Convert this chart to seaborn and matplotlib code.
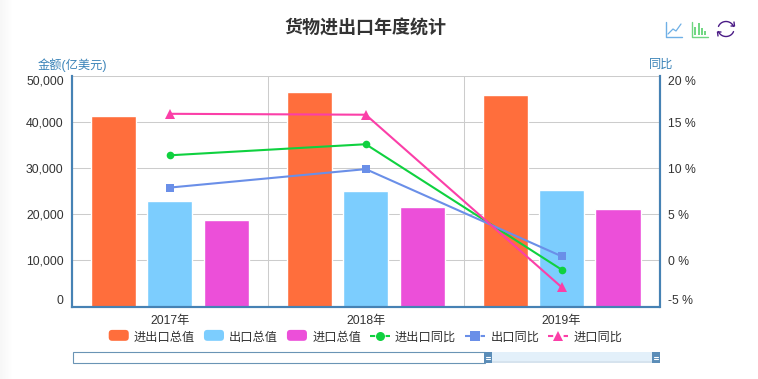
import numpy as np
import pandas as pd
import matplotlib
matplotlib.use('Agg')
import matplotlib.pyplot as plt
import seaborn as sns
from matplotlib.legend_handler import HandlerPatch
from matplotlib.lines import Line2D
from matplotlib.patches import FancyBboxPatch, Rectangle, Patch

# data
years = ['2017年', '2018年', '2019年']
total_value = [41300, 46500, 45900]
export_value = [22800, 25000, 25200]
import_value = [18700, 21500, 21100]
total_yoy = [11.4, 12.6, -1.0]
export_yoy = [7.9, 9.9, 0.45]
import_yoy = [15.9, 15.8, -2.9]
bar_names = ['进出口总值', '出口总值', '进口总值']
line_names = ['进出口同比', '出口同比', '进口同比']
left_ticks = [0, 10000, 20000, 30000, 40000, 50000]
right_ticks = [-5, 0, 5, 10, 15, 20]

bar_colors = ['#FF6E3C', '#7CCDFE', '#EC4FD9']
line_colors = ['#0FD13F', '#6A8FE8', '#FB3FA8']
line_markers = ['o', 's', '^']
AXIS = '#4682B4'
NAME = '#3A83B8'
TEXT = '#333333'
GRID = '#CCCCCC'

sns.set_theme(style='white')
plt.rcParams['font.family'] = ['Liberation Sans', 'Noto Sans CJK SC']
plt.rcParams['axes.unicode_minus'] = False
FS = 8.8

bars = pd.DataFrame({
    'year': years * 3,
    'name': np.repeat(bar_names, 3),
    'value': total_value + export_value + import_value,
})
lines = pd.DataFrame({
    'pos': list(range(3)) * 3,
    'name': np.repeat(line_names, 3),
    'value': total_yoy + export_yoy + import_yoy,
})

W, H = 758, 379
fig = plt.figure(figsize=(W / 100, H / 100), dpi=100)
ax = fig.add_axes([72 / W, 1 - 306.5 / H, 587.5 / W, 230.5 / H])

sns.barplot(bars, x='year', y='value', hue='name', palette=bar_colors, width=0.864, gap=0.2,
            saturation=1, legend=False, ax=ax, zorder=2, err_kws={'linewidth': 0})
ax.set(xlim=(-0.5, 2.5), ylim=(0, 50000), xlabel='', ylabel='')
ax.set_yticks(left_ticks)
ax.set_yticklabels([f'{v:,}' for v in left_ticks], fontsize=FS, color=TEXT)
ax.set_xticks(range(3))
ax.set_xticklabels(years, fontsize=FS, color=TEXT)
ax.set_xticks([-0.5, 0.5, 1.5, 2.5], minor=True)
ax.tick_params(axis='x', which='major', length=0, pad=6)
ax.tick_params(axis='x', which='minor', length=4, width=0.8, color='#333333', direction='out')
ax.tick_params(axis='y', length=0, pad=6)
ax.grid(True, axis='y', color=GRID, linewidth=0.75)
ax.grid(True, axis='x', which='minor', color=GRID, linewidth=0.75)
ax.set_axisbelow(True)

# 第二坐标轴 同比
ax2 = ax.twinx()
sns.lineplot(lines, x='pos', y='value', hue='name', style='name', palette=line_colors,
             markers=line_markers, dashes=False, markersize=5.5, markeredgewidth=0,
             linewidth=1.5, legend=False, ax=ax2)
ax2.lines[2].set_markersize(6.5)
ax2.set(xlim=(-0.5, 2.5), ylim=(-5, 20), xlabel='', ylabel='')
ax2.set_yticks(right_ticks)
ax2.set_yticklabels([f'{v} %' for v in right_ticks], fontsize=FS, color=TEXT)
ax2.tick_params(axis='y', length=0, pad=6)
ax2.grid(False)

for a in (ax, ax2):
    for side, sp in a.spines.items():
        sp.set_visible(side != 'top')
        sp.set_color(AXIS)
        sp.set_linewidth(1.5)
    # 两端刻度标签贴着轴内对齐
    labs = a.get_yticklabels()
    labs[0].set_verticalalignment('bottom')
    labs[-1].set_verticalalignment('top')

# 像素坐标的覆盖层: 标题, 工具栏, 缩放条
ov = fig.add_axes([0, 0, 1, 1], zorder=5)
ov.set(xlim=(0, W), ylim=(H, 0))
ov.axis('off')
ov.patch.set_alpha(0)

shade = np.linspace(0.965, 1, 14).reshape(1, -1)
ov.imshow(shade, extent=(0, 14, H, 0), cmap='gray', vmin=0, vmax=1, aspect='auto')
ov.set(xlim=(0, W), ylim=(H, 0))

ov.text(365, 29, '货物进出口年度统计', fontsize=13, fontweight='bold', color=TEXT, ha='center', va='center')
ov.text(72, 65, '金额(亿美元)', fontsize=FS, color=NAME, ha='center', va='center')
ov.text(661, 65, '同比', fontsize=FS, color=NAME, ha='center', va='center')

# 工具栏图标
c = '#6FB0E6'
ov.plot([666, 666, 682], [22, 37, 37], color=c, lw=1)
ov.plot([668, 673, 676, 681], [34, 29, 31, 24], color=c, lw=0.9)
c = '#6FD681'
ov.plot([692, 692, 708], [22, 37, 37], color=c, lw=1)
for x, top in zip([695, 698.5, 702, 705], [27, 23, 28, 31]):
    ov.plot([x, x], [35, top], color=c, lw=1.4, solid_capstyle='butt')
c = '#4B1B86'
t = np.radians(np.linspace(200, 340, 30))
ov.plot(726 + 8 * np.cos(t), 29 + 7.5 * np.sin(t), color=c, lw=1)
ov.plot(726 + 8 * np.cos(t + np.pi), 29 + 7.5 * np.sin(t + np.pi), color=c, lw=1)
ov.plot([734, 734.5, 731], [22, 26, 26], color=c, lw=1)
ov.plot([718, 717.5, 721], [36, 32, 32], color=c, lw=1)

# 图例
class RoundHandler(HandlerPatch):
    def create_artists(self, legend, orig, xd, yd, width, height, fontsize, trans):
        p = FancyBboxPatch((0, 0), width, height, boxstyle='round,pad=0,rounding_size=2.5',
                           facecolor=orig.get_facecolor(), edgecolor='none', transform=trans)
        return [p]

handles = [Patch(facecolor=c, label=n) for c, n in zip(bar_colors, bar_names)]
handles += [Line2D([], [], color=c, marker=m, lw=1.5, ms=6.5, mew=0, ls=(0, (2.5, 5)), label=n)
            for c, m, n in zip(line_colors, line_markers, line_names)]
fig.legend(handles=handles, handler_map={Patch: RoundHandler()}, ncol=6, frameon=False,
           loc='center', bbox_to_anchor=(365.5 / W, 1 - 337.5 / H), fontsize=FS, labelcolor=TEXT,
           handlelength=1.64, handleheight=1.0, handletextpad=0.42, columnspacing=0.72)

# dataZoom 缩放条
ov.add_patch(Rectangle((72.5, 351.5), 412, 11, facecolor='white', edgecolor='#6A94B5', lw=0.8))
ov.add_patch(Rectangle((491, 352), 161, 11, facecolor='#E3F0FA', edgecolor='none'))
ov.add_patch(Rectangle((491, 360.5), 161, 2.5, facecolor='#D6E3EE', edgecolor='none'))
for x in (483.5, 651.5):
    ov.add_patch(Rectangle((x, 352), 8.5, 11, facecolor='#5B8DB8', edgecolor='none'))
    ov.plot([x + 2.5, x + 6], [356.5, 356.5], color='white', lw=0.8)
    ov.plot([x + 2.5, x + 6], [358.5, 358.5], color='white', lw=0.8)

fig.savefig('out.png', dpi=100, facecolor='white')
